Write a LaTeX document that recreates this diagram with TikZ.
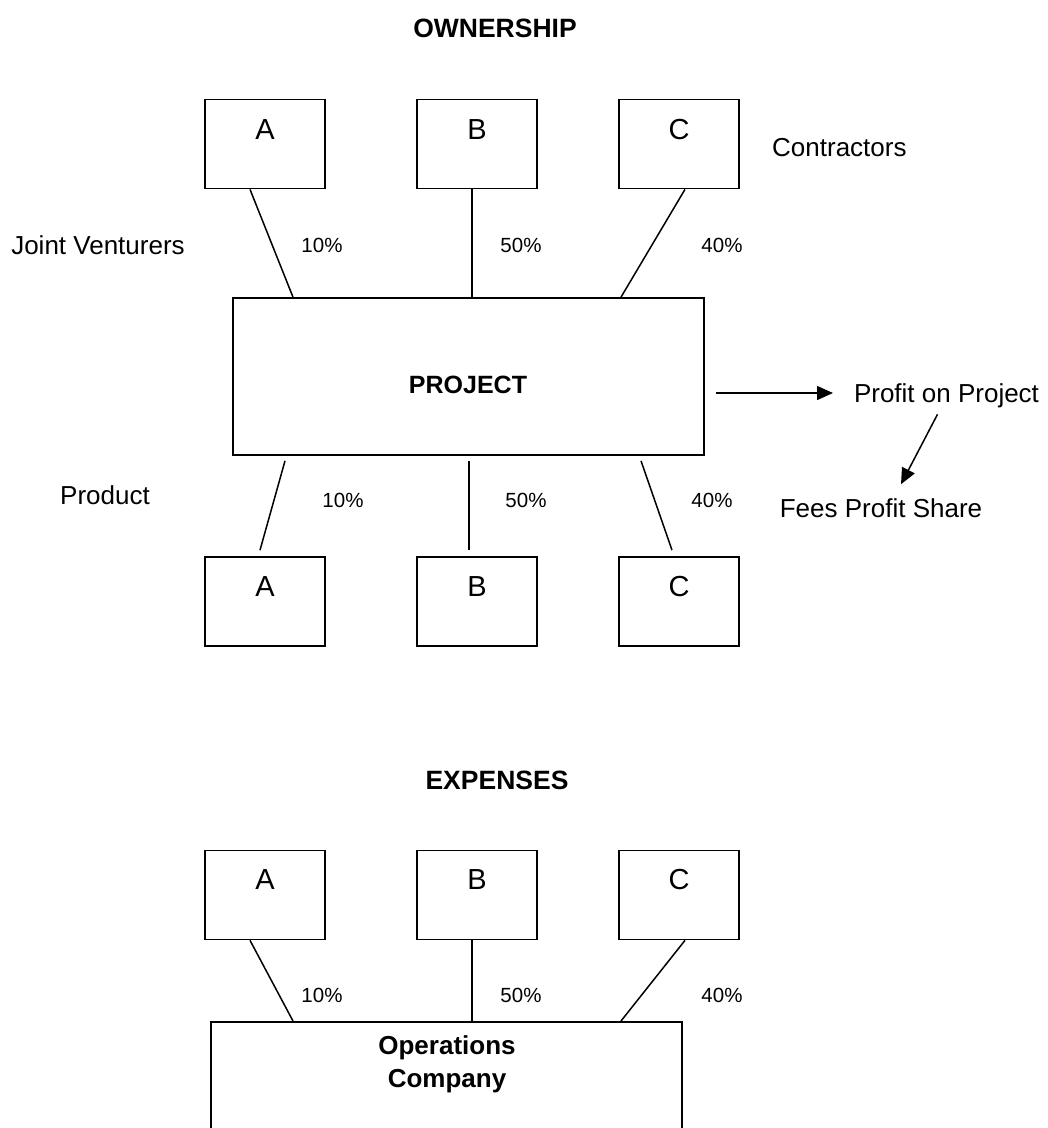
\documentclass[tikz,border=0pt]{standalone}
\usepackage{fontspec}
\setmainfont{Liberation Sans}
\usetikzlibrary{calc,arrows.meta}
\tikzset{
  box/.style={draw=black, line width=1.7pt, rectangle, minimum width=120pt, minimum height=89pt, inner sep=0pt},
  bigbox/.style={draw=black, line width=1.7pt, rectangle, inner sep=0pt},
  letter/.style={font=\fontsize{29}{33}\selectfont, inner sep=0pt},
  pct/.style={font=\fontsize{20.5}{24}\selectfont, inner sep=0pt},
  txt/.style={font=\fontsize{26}{30}\selectfont, inner sep=0pt},
  ttl/.style={font=\fontsize{26.5}{30}\selectfont\bfseries, inner sep=0pt},
  link/.style={line width=1.5pt},
  arr/.style={line width=1.5pt, -{Triangle[length=16pt,width=14pt]}}
}
\begin{document}
\begin{tikzpicture}[x=1pt,y=-1pt]
\clip (0,0) rectangle (1048,1128);
\fill[white] (0,0) rectangle (1048,1128);

% ---------- OWNERSHIP ----------
\node[ttl] (own) at (495,28) {OWNERSHIP};

\node[box] (ta) at (265,144) {};
\node[box] (tb) at (477,144) {};
\node[box] (tc) at (679,144) {};
\node[letter] (tal) at (265,130) {A};
\node[letter] (tbl) at (477,130) {B};
\node[letter] (tcl) at (679,130) {C};

\node[bigbox, minimum width=471pt, minimum height=157pt] (proj) at (468.5,376.5) {};
\node[ttl, font=\fontsize{25}{30}\selectfont\bfseries] (projl) at (468,385) {PROJECT};

\draw[link] ($(ta.south)+(-15,0)$) -- ($(proj.north)+(-175.5,0)$);
\draw[link] ($(tb.south)+(-5,0)$) -- ($(proj.north)+(3.5,0)$);
\draw[link] ($(tc.south)+(6,0)$) -- ($(proj.north)+(152.5,0)$);

\node[txt] (jv) at (98,245) {Joint Venturers};
\node[pct] (p1) at (322,245) {10\%};
\node[pct] (p2) at (521,245) {50\%};
\node[pct] (p3) at (722,245) {40\%};
\node[txt, anchor=west] (contr) at (772,148) {Contractors};

\node[txt] (profit) at (946.5,396) {Profit on Project};
\node[txt] (fees) at (881,508) {Fees Profit Share};
\coordinate (arrs) at (716,393);
\coordinate (arre) at (833,393);
\draw[arr] (arrs) -- (arre);
\draw[arr] ($(profit.south)+(-9,6)$) -- ($(fees.north)+(20,-14)$);

% bottom boxes
\node[box] (ba) at (265,601.5) {};
\node[box] (bb) at (477,601.5) {};
\node[box] (bc) at (679,601.5) {};
\node[letter] (bal) at (265,587) {A};
\node[letter] (bbl) at (477,587) {B};
\node[letter] (bcl) at (679,587) {C};

\draw[link] ($(proj.south)+(-183.5,5)$) -- ($(ba.north)+(-5,-6)$);
\draw[link] ($(proj.south)+(0.5,5)$) -- ($(bb.north)+(-8,-6)$);
\draw[link] ($(proj.south)+(172.5,5)$) -- ($(bc.north)+(-7,-6)$);

\node[txt] (prod) at (105,495) {Product};
\node[pct] (q1) at (343,500) {10\%};
\node[pct] (q2) at (526,500) {50\%};
\node[pct] (q3) at (712,500) {40\%};

% ---------- EXPENSES ----------
\node[ttl] (exp) at (497,780) {EXPENSES};

\node[box] (ea) at (265,895) {};
\node[box] (eb) at (477,895) {};
\node[box] (ec) at (679,895) {};
\node[letter] (eal) at (265,880) {A};
\node[letter] (ebl) at (477,880) {B};
\node[letter] (ecl) at (679,880) {C};

\node[bigbox, minimum width=471pt, minimum height=200pt, anchor=north] (ops) at (446.5,1021) {};
\node[ttl, align=center, font=\fontsize{26}{33}\selectfont\bfseries] (opsl) at (447,1064.5) {Operations\\Company};

\draw[link] ($(ea.south)+(-15,0)$) -- ($(ops.north)+(-153.5,0)$);
\draw[link] ($(eb.south)+(-5,0)$) -- ($(ops.north)+(25.5,0)$);
\draw[link] ($(ec.south)+(6,0)$) -- ($(ops.north)+(174.5,0)$);

\node[pct] (r1) at (322,995) {10\%};
\node[pct] (r2) at (521,995) {50\%};
\node[pct] (r3) at (722,995) {40\%};
\end{tikzpicture}
\end{document}
